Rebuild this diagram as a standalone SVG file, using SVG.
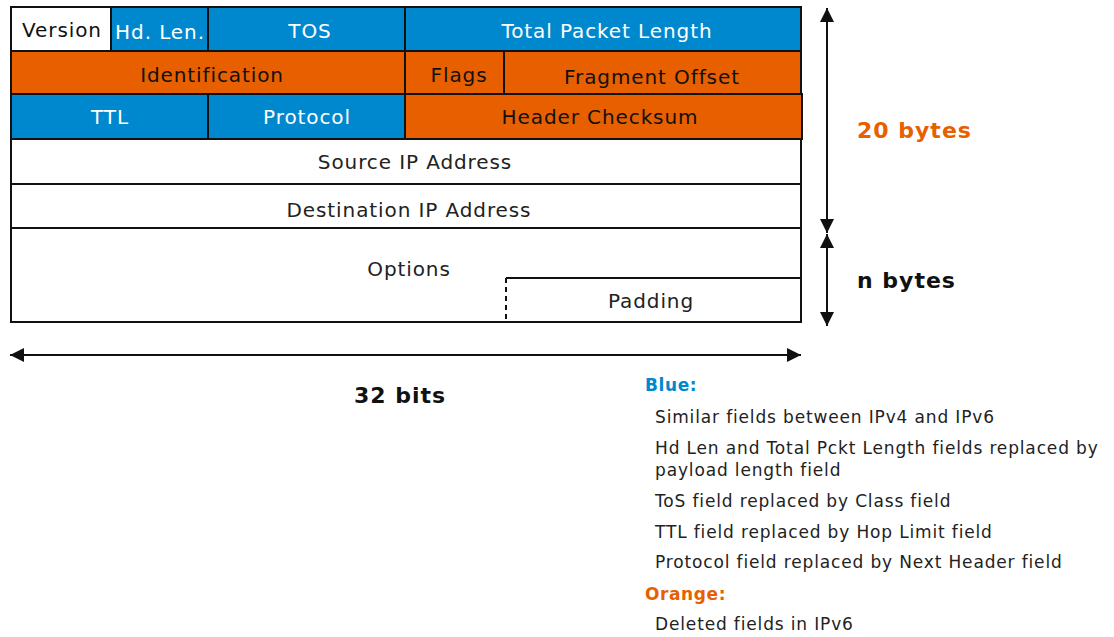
<svg xmlns="http://www.w3.org/2000/svg" width="1114" height="637" viewBox="0 0 1114 637">
<style>
.f{stroke:#111;stroke-width:2}
.b{fill:#0088CE}
.o{fill:#E85F00}
.w{fill:#fff}
text{font-family:"DejaVu Sans",Verdana,sans-serif;font-size:20px;letter-spacing:0.9px;text-anchor:middle}
.tw{fill:#fff}
.tk{fill:#111}
.tg{fill:#222}
.lbl{font-weight:bold;font-size:22px;letter-spacing:1px;text-anchor:start}
.leg{font-size:17px;letter-spacing:0.85px;text-anchor:start;fill:#222}
.legh{font-size:17px;letter-spacing:0.6px;font-weight:bold;text-anchor:start}
.ln{stroke:#111;stroke-width:2;fill:none}
</style>
<defs>
<marker id="ah" viewBox="0 0 10 10" refX="10" refY="5" markerWidth="14" markerHeight="14" markerUnits="userSpaceOnUse" orient="auto-start-reverse">
<path d="M0,0 L10,5 L0,10 z" fill="#111"/>
</marker>
</defs>
<g id="version"><rect class="f w" x="11" y="7" width="100" height="44"/><text class="tk" x="62" y="37">Version</text></g>
<g id="hdlen"><rect class="f b" x="111" y="7" width="97" height="44"/><text class="tw" x="160" y="39">Hd. Len.</text></g>
<g id="tos"><rect class="f b" x="208" y="7" width="197" height="44"/><text class="tw" x="310" y="38">TOS</text></g>
<g id="total"><rect class="f b" x="405" y="7" width="396" height="44"/><text class="tw" x="607" y="38">Total Packet Length</text></g>
<g id="ident"><rect class="f o" x="11" y="51" width="394" height="43"/><text class="tk" x="212" y="82">Identification</text></g>
<g id="flags"><rect class="f o" x="405" y="51" width="99" height="43"/><text class="tk" x="459" y="82">Flags</text></g>
<g id="frag"><rect class="f o" x="504" y="51" width="297" height="43"/><text class="tk" x="652" y="84">Fragment Offset</text></g>
<g id="ttl"><rect class="f b" x="11" y="94" width="197" height="45"/><text class="tw" x="110" y="124">TTL</text></g>
<g id="proto"><rect class="f b" x="208" y="94" width="197" height="45"/><text class="tw" x="307" y="124">Protocol</text></g>
<g id="checksum"><rect class="f o" x="405" y="94" width="397" height="45"/><text class="tk" x="600" y="124">Header Checksum</text></g>
<g id="src"><rect class="f w" x="11" y="139" width="790" height="45"/><text class="tg" x="415" y="169">Source IP Address</text></g>
<g id="dst"><rect class="f w" x="11" y="184" width="790" height="44"/><text class="tg" x="409" y="217">Destination IP Address</text></g>
<g id="options"><rect class="f w" x="11" y="228" width="790" height="94"/><text class="tg" x="409" y="276">Options</text></g>
<g id="padding"><path class="ln" d="M506,278 H801"/><path class="ln" d="M506,278 V322" stroke-dasharray="5,4"/><text class="tg" x="651" y="308">Padding</text></g>
<g id="connectors">
<line class="ln" x1="827" y1="8" x2="827" y2="233" marker-start="url(#ah)" marker-end="url(#ah)"/>
<line class="ln" x1="827" y1="234" x2="827" y2="326" marker-start="url(#ah)" marker-end="url(#ah)"/>
<line class="ln" x1="10" y1="355" x2="801" y2="355" marker-start="url(#ah)" marker-end="url(#ah)"/>
</g>
<g id="labels">
<text class="lbl" x="857" y="138" fill="#E85F00">20 bytes</text>
<text class="lbl" x="857" y="288" fill="#111">n bytes</text>
<text class="lbl" x="400" y="403" style="text-anchor:middle" fill="#111">32 bits</text>
</g>
<g id="legend">
<text class="legh" x="645" y="391" fill="#0088CE">Blue:</text>
<text class="leg" x="655" y="423">Similar fields between IPv4 and IPv6</text>
<text class="leg" x="655" y="454">Hd Len and Total Pckt Length fields replaced by</text>
<text class="leg" x="655" y="476">payload length field</text>
<text class="leg" x="655" y="507">ToS field replaced by Class field</text>
<text class="leg" x="655" y="538">TTL field replaced by Hop Limit field</text>
<text class="leg" x="655" y="568">Protocol field replaced by Next Header field</text>
<text class="legh" x="645" y="600" fill="#E85F00">Orange:</text>
<text class="leg" x="655" y="630">Deleted fields in IPv6</text>
</g>
</svg>
